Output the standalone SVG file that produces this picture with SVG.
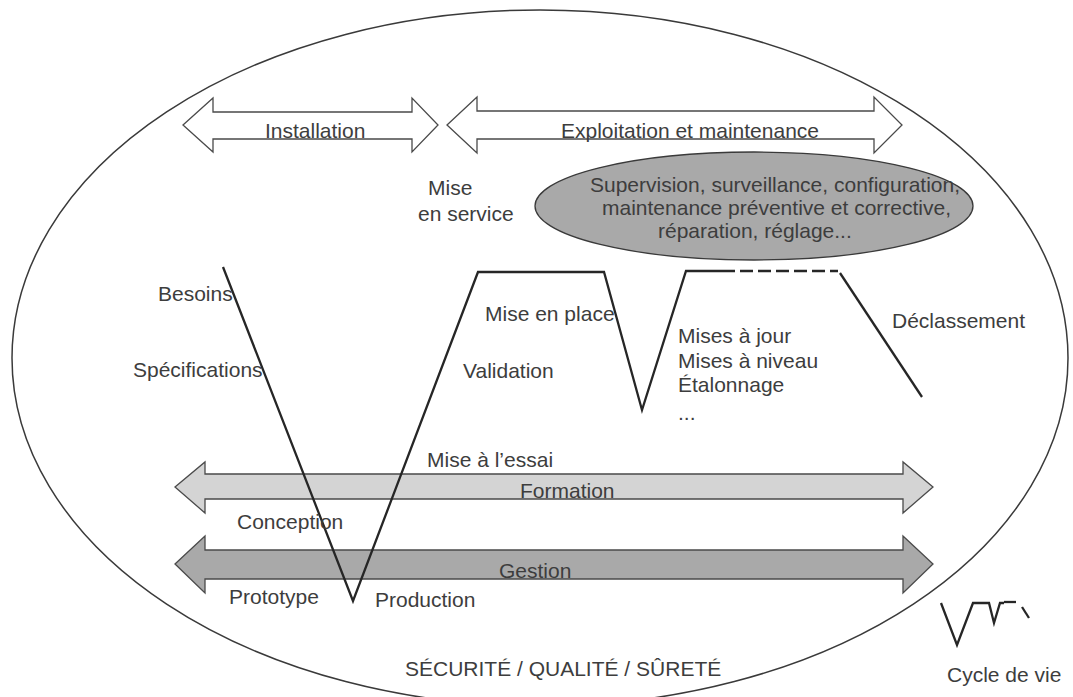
<svg xmlns="http://www.w3.org/2000/svg" width="1073" height="697" viewBox="0 0 1073 697">
<style>
text{font-family:"Liberation Sans",Arial,sans-serif;font-size:21px;fill:#3d3d3d}
.arw{stroke:#4a4a4a;stroke-width:1.3}
.cyc{fill:none;stroke:#262626;stroke-width:2.3;stroke-linejoin:miter}
</style>
<rect x="0" y="0" width="1073" height="697" fill="#ffffff"/>
<g id="frame">
<ellipse cx="540" cy="358" rx="528" ry="348" fill="none" stroke="#3a3a3a" stroke-width="1.5"/>
</g>
<g id="installation">
<path class="arw" fill="#ffffff" d="M183,125 L213,98 L213,112 L412,112 L412,98 L438,125 L412,152 L412,139 L213,139 L213,152 Z"/>
<text x="265" y="138">Installation</text>
</g>
<g id="exploitation">
<path class="arw" fill="#ffffff" d="M447,125 L477,97 L477,111 L874,111 L874,97 L902,125 L874,153 L874,139 L477,139 L477,153 Z"/>
<text x="561" y="138">Exploitation et maintenance</text>
</g>
<g id="mise-en-service">
<text x="428" y="195">Mise</text>
<text x="418" y="221">en service</text>
</g>
<g id="supervision">
<ellipse cx="754" cy="206" rx="219" ry="54" fill="#a9a9a9" stroke="#3a3a3a" stroke-width="1.3"/>
<text x="590" y="192">Supervision, surveillance, configuration,</text>
<text x="602" y="215">maintenance préventive et corrective,</text>
<text x="658" y="238">réparation, réglage...</text>
</g>
<g id="formation">
<path class="arw" fill="#d4d4d4" d="M175,487 L205,462 L205,474 L903,474 L903,462 L933,487 L903,513 L903,499 L205,499 L205,513 Z"/>
<text x="520" y="498">Formation</text>
</g>
<g id="gestion">
<path class="arw" fill="#a9a9a9" d="M175,564 L205,536 L205,550 L903,550 L903,536 L933,564 L903,593 L903,579 L205,579 L205,593 Z"/>
<text x="499" y="578">Gestion</text>
</g>
<g id="connectors">
<path class="cyc" d="M223,267 L353,601 L478,272 L604,272 L642,410 L686,271 L722,271"/>
<path class="cyc" stroke-dasharray="13 5" d="M722,271 L838,271"/>
<path class="cyc" stroke-width="1.6" d="M840,273 L922,397"/>
</g>
<g id="labels">
<text x="158" y="301">Besoins</text>
<text x="133" y="377">Spécifications</text>
<text x="485" y="321">Mise en place</text>
<text x="463" y="378">Validation</text>
<text x="678" y="343">Mises à jour</text>
<text x="678" y="368">Mises à niveau</text>
<text x="678" y="392">Étalonnage</text>
<text x="678" y="420">...</text>
<text x="892" y="328">Déclassement</text>
<text x="427" y="467">Mise à l’essai</text>
<text x="237" y="529">Conception</text>
<text x="229" y="604">Prototype</text>
<text x="375" y="607">Production</text>
<text x="405" y="676">SÉCURITÉ / QUALITÉ / SÛRETÉ</text>
</g>
<g id="legend">
<path class="cyc" stroke-width="2" d="M941,603 L957,645 L973,603 L989,603 L994,623 L1000,603 L1004,603"/>
<path class="cyc" stroke-width="2.6" d="M1004,602 L1016,602"/>
<path class="cyc" stroke-width="2" d="M1022,607 L1029,618"/>
<text x="947" y="682">Cycle de vie</text>
</g>
</svg>
